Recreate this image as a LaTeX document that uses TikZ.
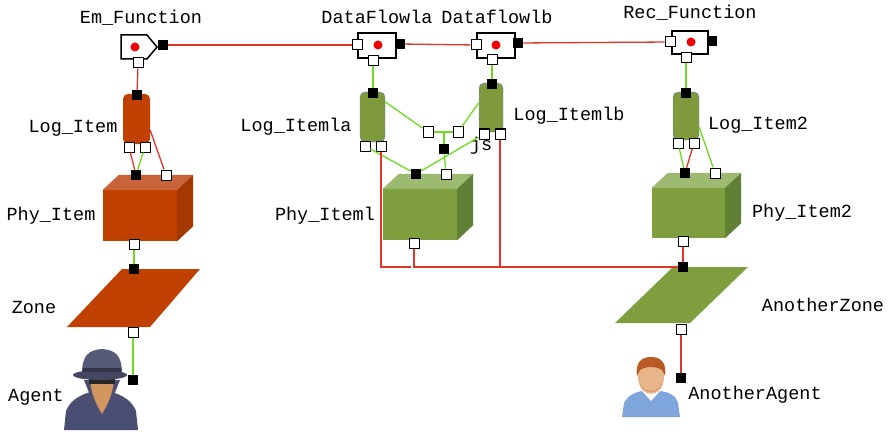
\documentclass[tikz,border=0pt]{standalone}
\usepackage{fontspec}
\newfontfamily\tagfont{Liberation Mono}
\usetikzlibrary{shapes.symbols}
\definecolor{WireRed}{HTML}{E2352A}
\definecolor{WireGreen}{HTML}{6EDC1E}
\definecolor{DotRed}{HTML}{F00000}
\definecolor{PhyOrange}{HTML}{C04000}
\definecolor{PhyOrangeTop}{HTML}{C9643A}
\definecolor{PhyOrangeSide}{HTML}{A53800}
\definecolor{PhyGreen}{HTML}{7F9F3F}
\definecolor{PhyGreenTop}{HTML}{9DBB70}
\definecolor{PhyGreenSide}{HTML}{5F8035}
\definecolor{LogGreen}{HTML}{7F9A3C}
\definecolor{LogEdge}{HTML}{6F8FD0}
\definecolor{SpyCoat}{HTML}{4A4E72}
\definecolor{SpyHat}{HTML}{555A78}
\definecolor{SpyFace}{HTML}{D2965F}
\definecolor{GuyShirt}{HTML}{7FA6DC}
\definecolor{GuyFace}{HTML}{E8B48A}
\definecolor{GuyHair}{HTML}{B95A26}

\begin{document}
\begin{tikzpicture}[x=1pt,y=-1pt,
    funcbox/.style={draw=black,line width=1.5pt,fill=white,minimum width=38,minimum height=25,inner sep=0},
    logbox/.style={rounded corners=5,minimum width=26,minimum height=50,inner sep=0},
    frontface/.style={minimum width=74,minimum height=51,inner sep=0},
    inport/.style={draw=black,line width=1pt,fill=white,minimum size=10,inner sep=0},
    outport/.style={fill=black,minimum size=10,inner sep=0},
    reddot/.style={circle,fill=DotRed,minimum size=9,inner sep=0},
    wirered/.style={draw=WireRed,line width=1.3pt},
    wiregreen/.style={draw=WireGreen,line width=1.3pt},
    tag/.style={font=\tagfont\fontsize{18.5}{20}\selectfont,inner sep=0}
  ]
    \fill[white] (0,0) rectangle (888,433);
    \useasboundingbox (0,0) rectangle (888,433);

    % functions
    \node[funcbox,shape=signal,signal to=east,signal pointer angle=100,minimum width=36,minimum height=24,anchor=east] (em) at (158,47) {};
    \node[funcbox] (dfa) at (377,45.5) {};
    \node[funcbox] (dfb) at (496,45.5) {};
    \node[funcbox,minimum width=36,minimum height=23] (rec) at (690,42.5) {};
    \node[reddot] (emdot) at (135,47) {};
    \node[reddot] (dfadot) at (378,45) {};
    \node[reddot] (dfbdot) at (496,45) {};
    \node[reddot] (recdot) at (691,42) {};

    \node[tag] (emtag) at (141,18) {Em\_Function};
    \node[tag] (dfatag) at (377,17) {DataFlowla};
    \node[tag] (dfbtag) at (497,17) {Dataflowlb};
    \node[tag] (rectag) at (690,13) {Rec\_Function};

    % logical items
    \node[logbox,fill=PhyOrange,minimum width=27] (logi) at (136.5,119) {};
    \node[logbox,fill=LogGreen,draw=LogEdge,minimum width=25] (logia) at (372.5,117) {};
    \node[logbox,fill=LogGreen,draw=LogEdge,minimum width=24,minimum height=49] (logib) at (491,107.5) {};
    \node[logbox,fill=LogGreen,draw=LogEdge,minimum height=48] (logi2) at (686,116) {};

    \node[tag] (logitag) at (73,128) {Log\_Item};
    \node[tag] (logiatag) at (296,127) {Log\_Itemla};
    \node[tag] (logibtag) at (569,116) {Log\_Itemlb};
    \node[tag] (logi2tag) at (758,125) {Log\_Item2};
    \node[tag] (jstag) at (481,146) {js};

    % physical items
    \node[frontface,fill=PhyOrange] (phy) at (140,215.5) {};
    \node[frontface,fill=PhyGreen] (phya) at (420,214.5) {};
    \node[frontface,fill=PhyGreen,minimum width=73,minimum height=50] (phyb) at (688.5,213) {};
    \foreach \b/\col in {phy/PhyOrange,phya/PhyGreen,phyb/PhyGreen}{
      \fill[\col Top] (\b.north west) -- ++(16,-15) -- ([shift={(16pt,15pt)}]\b.north east) -- (\b.north east) -- cycle;
      \fill[\col Side] (\b.north east) -- ++(16,-15) -- ([shift={(16pt,15pt)}]\b.south east) -- (\b.south east) -- cycle;
    }

    \node[tag] (phytag) at (51,216) {Phy\_Item};
    \node[tag] (phyatag) at (325,216) {Phy\_Iteml};
    \node[tag] (phybtag) at (802,213) {Phy\_Item2};

    % zones
    \fill[PhyOrange] (67,327) -- (150,327) -- (200,269) -- (122,269) -- cycle;
    \fill[PhyGreen] (615,323) -- (690,323) -- (748,267) -- (673,267) -- cycle;
    \node[tag] (zonetag) at (34,307) {Zone};
    \node[tag] (zone2tag) at (823,305) {AnotherZone};

    % agents
    \fill[SpyCoat] (64,430) -- (66,411) .. controls (70,401) and (78,396) .. (90,392)
      -- (112,392) .. controls (124,396) and (132,401) .. (136,411) -- (138,430) -- cycle;
    \fill[SpyCoat] (84,380) -- (92,380) -- (100,404) -- (92,400) -- cycle;
    \fill[SpyCoat] (120,380) -- (112,380) -- (104,404) -- (112,400) -- cycle;
    \fill[SpyFace] (90,376) -- (114,376) .. controls (114,392) and (108,404) .. (102,414) .. controls (96,404) and (90,392) .. (90,376) -- cycle;
    \fill[black!85] (89,378) rectangle (115,384);
    \fill[SpyHat] (82,374) .. controls (82,356) and (88,350) .. (102,349) .. controls (116,350) and (122,356) .. (122,374) -- cycle;
    \fill[SpyHat!80!black] (100,375) ellipse [x radius=27,y radius=5];
    \fill[SpyHat!60!black] (83,368) rectangle (121,372);
    \node[tag] (agenttag) at (36,397) {Agent};

    \fill[GuyShirt] (622,417) -- (624,403) .. controls (628,395) and (636,392) .. (642,391)
      -- (660,391) .. controls (668,392) and (676,395) .. (678,403) -- (680,417) -- cycle;
    \fill[white] (642,391) -- (660,391) -- (651,401) -- cycle;
    \fill[GuyFace] (651,377) ellipse [x radius=13,y radius=17];
    \fill[GuyHair] (637,376) .. controls (635,362) and (642,357) .. (651,357) .. controls (660,357) and (667,362) .. (665,376)
      -- (662,370) .. controls (656,366) and (646,366) .. (640,370) -- cycle;
    \fill[GuyHair!70!GuyFace] (640,384) .. controls (644,394) and (658,394) .. (662,384) -- (660,388) .. controls (655,392) and (647,392) .. (642,388) -- cycle;
    \node[tag] (agent2tag) at (755,395) {AnotherAgent};

    % ports
    \node[outport] (emout) at (163,45) {};
    \node[inport] (emdown) at (138,63) {};
    \node[inport] (dfain) at (357,45) {};
    \node[outport] (dfaout) at (400,44) {};
    \node[inport] (dfadown) at (373,61) {};
    \node[inport] (dfbin) at (476,45) {};
    \node[outport] (dfbout) at (518,43) {};
    \node[inport] (dfbdown) at (492,60) {};
    \node[inport] (recin) at (670,42) {};
    \node[outport] (recout) at (712,41) {};
    \node[inport] (recdown) at (686,58) {};

    \node[outport] (logitop) at (137,95) {};
    \node[inport] (logib1) at (129,147) {};
    \node[inport] (logib2) at (145,147) {};
    \node[outport] (logiatop) at (373,93) {};
    \node[inport] (logia1) at (365,146) {};
    \node[inport] (logia2) at (381,146) {};
    \node[outport] (logibtop) at (492,84) {};
    \node[inport] (logibb1) at (484,134) {};
    \node[inport] (logibb2) at (500,134) {};
    \node[outport] (logi2top) at (686,93) {};
    \node[inport] (logi2b1) at (678,143) {};
    \node[inport] (logi2b2) at (694,143) {};

    \node[inport] (jsa) at (428,132) {};
    \node[inport] (jsb) at (458,132) {};
    \node[outport] (jsk) at (444,149) {};

    \node[outport] (phytop) at (136,175) {};
    \node[inport] (phytap) at (166,175) {};
    \node[inport] (phybot) at (134,244) {};
    \node[outport] (phyatop) at (416,174) {};
    \node[inport] (phyatap) at (446,174) {};
    \node[inport] (phyabot) at (414,243) {};
    \node[outport] (phybtop) at (685,173) {};
    \node[inport] (phybtap) at (715,173) {};
    \node[inport] (phybbot) at (683,241) {};

    \node[outport] (zonetop) at (134,269) {};
    \node[inport] (zonebot) at (133,332) {};
    \node[outport] (zone2top) at (683,267) {};
    \node[inport] (zone2bot) at (681,329) {};
    \node[outport] (agentpin) at (133,380) {};
    \node[outport] (agent2pin) at (681,378) {};

    % links
    \draw[wirered] (emout) -- (dfain);
    \draw[wirered] (dfaout) -- (dfbin);
    \draw[wirered] (dfbout) -- (recin);
    \draw[wirered] (emdown) -- (logitop);
    \draw[wiregreen] (dfadown) -- (logiatop);
    \draw[wiregreen] (dfbdown) -- (logibtop);
    \draw[wiregreen] (recdown) -- (logi2top);

    \draw[wirered] (logib1) -- (phytop);
    \draw[wiregreen] (logib2) -- (phytop);
    \draw[wirered] ([yshift=14pt]logi.south east) -- (phytap);
    \draw[wiregreen] (phybot) -- (zonetop);
    \draw[wiregreen] (zonebot) -- (agentpin);

    \draw[wiregreen] ([yshift=-10pt]logia.north east) -- (jsa);
    \draw[wiregreen] ([yshift=-20pt]logib.north west) -- (jsb);
    \draw[wiregreen] (jsa) -- (jsb);
    \draw[wiregreen] (jsk) -- (jsk |- jsa);
    \draw[wiregreen] (jsk) -- (phyatap);
    \draw[wiregreen] (logia1) -- (phyatop);
    \draw[wiregreen] (logibb1) -- (phyatop);
    \draw[wirered] (logia2) |- ([xshift=-3pt]phyabot |- zone2top);
    \draw[wirered] (phyabot) |- (zone2top);
    \draw[wirered] (logibb2) -- (logibb2 |- zone2top);

    \draw[wiregreen] (logi2b1) -- (phybtop);
    \draw[wirered] (logi2b2) -- (phybtop);
    \draw[wiregreen] ([yshift=13pt]logi2.south east) -- (phybtap);
    \draw[wirered] (phybbot) -- (zone2top);
    \draw[wirered] (zone2bot) -- (agent2pin);
  \end{tikzpicture}
\end{document}
